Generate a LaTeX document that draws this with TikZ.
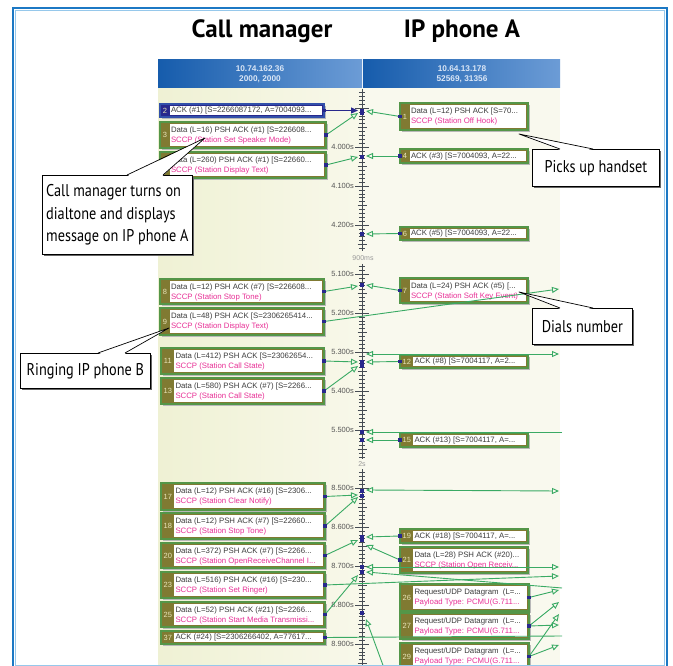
\documentclass[tikz,border=0pt]{standalone}
\usepackage{fontspec}
\setmainfont{Liberation Sans}
\newfontfamily\titlefont{PT Sans}
\newfontfamily\callfont[FakeStretch=0.84]{PT Sans}
\usetikzlibrary{arrows.meta,calc,fit,shadows}

\definecolor{frameblue}{RGB}{28,120,196}
\definecolor{framelight}{RGB}{150,200,235}
\definecolor{hdrdark}{RGB}{22,92,172}
\definecolor{hdrlight}{RGB}{108,156,214}
\definecolor{hdrtext}{RGB}{218,230,246}
\definecolor{colL}{RGB}{239,241,212}
\definecolor{colLr}{RGB}{248,248,234}
\definecolor{colR}{RGB}{249,249,238}
\definecolor{olive}{RGB}{128,122,50}
\definecolor{boxedge}{RGB}{84,150,72}
\definecolor{numtxt}{RGB}{232,228,184}
\definecolor{txtgray}{RGB}{60,60,60}
\definecolor{pinktxt}{RGB}{232,48,150}
\definecolor{msggreen}{RGB}{58,170,100}
\definecolor{navy}{RGB}{40,40,140}
\definecolor{selblue}{RGB}{50,80,170}
\definecolor{axisgray}{RGB}{70,76,84}
\definecolor{timegray}{RGB}{85,85,85}

\tikzset{
 boxframe/.style={draw=boxedge, fill=olive, line width=1.1pt, inner sep=0pt, outer sep=0pt},
 selframe/.style={draw=selblue, fill=navy, line width=1.1pt, inner sep=0pt, outer sep=0pt},
 numsty/.style={text=numtxt, font=\fontsize{7.5}{8}\selectfont, inner sep=0pt},
 l1sty/.style={anchor=west, inner sep=0pt, text=txtgray, font=\fontsize{7.8}{9}\selectfont},
 l2sty/.style={l1sty, text=pinktxt},
 msgline/.style={draw=msggreen, line width=0.9pt},
 msg/.style={msgline, -{Triangle[open, length=7pt, width=6pt]}},
 msgboth/.style={msgline, {Triangle[open, length=7pt, width=6pt]}-{Triangle[open, length=7pt, width=6pt]}},
 selmsg/.style={draw=navy, line width=0.9pt, -{Triangle[length=7pt, width=6pt]}},
 axtick/.style={draw=axisgray, line width=0.55pt},
 axtickmaj/.style={draw=axisgray, line width=0.75pt},
 timelbl/.style={anchor=east, inner sep=0pt, text=timegray, font=\fontsize{7.5}{8}\selectfont},
 hdrtxt/.style={inner sep=0pt, text=hdrtext, font=\bfseries\fontsize{8.3}{9}\selectfont},
 titlesty/.style={inner sep=0pt, font=\titlefont\bfseries\fontsize{25}{28}\selectfont},
 callsty/.style={draw=black, line width=0.7pt, fill=white, inner sep=0pt, align=left,
   font=\callfont\fontsize{17}{22.5}\selectfont,
   drop shadow={shadow xshift=1.3pt, shadow yshift=-1.3pt, fill=black!60, opacity=1}},
 wedgeline/.style={draw=black, line width=0.7pt, line join=round},
}

% #1 name #2 number #3 x1 #4 y1 #5 x2 #6 y2 #7 line 1 #8 line 2 #9 frame style
\newcommand\msgbox[9]{%
  \ifnum#2>9 \def\sw{13}\else\def\sw{9.5}\fi
  \fill[black!28] ({#3+1.8},{#4+1.8}) rectangle ({#5+1.8},{#6+1.8});
  \node[#9, fit={(#3,#4) (#5,#6)}] (#1) {};
  \fill[white] ({#3+\sw},{#4+1.8}) rectangle ({#5-1.8},{#6-1.8});
  \node[numsty] (#1n) at ({#3+\sw/2+0.3},{(#4+#6)/2}) {#2};
  \if\relax\detokenize{#8}\relax
    \node[l1sty] (#1a) at ({#3+\sw+1.3},{(#4+#6)/2}) {#7};
  \else
    \node[l1sty] (#1a) at ({#3+\sw+1.3},{#4+8}) {#7};
    \node[l2sty] (#1b) at ({#3+\sw+1.3},{#4+18.2}) {#8};
  \fi
}
\newcommand\navydot[1]{\fill[navy] ($(#1)+(-1.6,-1.6)$) rectangle ($(#1)+(1.6,1.6)$);}
% #1 reference y, #2 kmin, #3 kmax
\newcommand\axticks[3]{%
  \foreach \k in {#2,...,#3}{%
    \pgfmathtruncatemacro\mm{mod(abs(\k),10)}%
    \pgfmathtruncatemacro\mf{mod(abs(\k),5)}%
    \ifnum\mm=0 \draw[axtickmaj] (355,{#1+3.9*\k}) -- (369,{#1+3.9*\k});
    \else\ifnum\mf=0 \draw[axtick] (357.5,{#1+3.9*\k}) -- (366.5,{#1+3.9*\k});
    \else \draw[axtick] (358.8,{#1+3.9*\k}) -- (365.2,{#1+3.9*\k}); \fi\fi}}

\begin{document}
\begin{tikzpicture}[x=1pt,y=-1pt]
\useasboundingbox (0,0) rectangle (673,666);
\clip (0,0) rectangle (673,666);
\fill[white] (0,0) rectangle (673,666);

% columns and headers
\shade[left color=colL, right color=colLr] (158,88) rectangle (362,670);
\fill[colR] (362,88) rectangle (560,670);
\shade[left color=hdrdark, right color=hdrlight] (158,60) rectangle (362,88);
\shade[left color=hdrdark, right color=hdrlight] (363,60) rectangle (560,88);
\node[hdrtxt] (hL1) at (260,68.5) {10.74.162.36};
\node[hdrtxt] (hL2) at (260,79.5) {2000, 2000};
\node[hdrtxt] (hR1) at (462,68.5) {10.64.13.178};
\node[hdrtxt] (hR2) at (462,79.5) {52569, 31356};

% time axis
\draw[axisgray, line width=0.9pt] (362,89) -- (362,251);
\draw[axisgray, line width=0.9pt] (362,264) -- (362,459);
\draw[axisgray, line width=0.9pt] (362,469) -- (362,666);
\axticks{147}{-14}{26}
\axticks{274}{-2}{47}
\axticks{488}{-4}{45}
\foreach \lab/\yy in {4.000s/147,4.100s/186,4.200s/225,5.100s/274,5.200s/313,5.300s/352,5.400s/391,5.500s/430,8.500s/488,8.600s/527,8.700s/566,8.800s/605,8.900s/644}
  {\node[timelbl] (tl\yy) at (354,\yy) {\lab};}
\node[inner sep=0pt, text=black!40, font=\fontsize{7}{8}\selectfont] (gap1) at (363,258) {900ms};
\node[inner sep=0pt, text=black!40, font=\fontsize{7}{8}\selectfont] (gap2) at (362,464) {2s};

% message boxes, call manager side
\msgbox{b2}{2}{160}{104}{324}{117}{ACK (\#1) [S=2266087172, A=7004093...}{}{selframe}
\msgbox{b3}{3}{160}{122}{326}{148}{Data (L=16) PSH ACK (\#1) [S=226608...}{SCCP (Station Set Speaker Mode)}{boxframe}
\msgbox{b5}{5}{160}{152}{326}{178}{Data (L=260) PSH ACK (\#1) [S=22660...}{SCCP (Station Display Text)}{boxframe}
\msgbox{b8}{8}{160}{279}{324}{304}{Data (L=12) PSH ACK (\#7) [S=226608...}{SCCP (Station Stop Tone)}{boxframe}
\msgbox{b9}{9}{160}{308}{324}{335}{Data (L=48) PSH ACK [S=2306265414...}{SCCP (Station Display Text)}{boxframe}
\msgbox{b11}{11}{161}{348}{324}{374}{Data (L=412) PSH ACK [S=23062654...}{SCCP (Station Call State)}{boxframe}
\msgbox{b13}{13}{161}{378}{324}{404}{Data (L=580) PSH ACK (\#7) [S=2266...}{SCCP (Station Call State)}{boxframe}
\msgbox{b17}{17}{161}{483}{325}{510}{Data (L=12) PSH ACK (\#16) [S=2306...}{SCCP (Station Clear Notify)}{boxframe}
\msgbox{b18}{18}{161}{513}{325}{539}{Data (L=12) PSH ACK (\#7) [S=22660...}{SCCP (Station Stop Tone)}{boxframe}
\msgbox{b20}{20}{161}{543}{325}{568}{Data (L=372) PSH ACK (\#7) [S=2266...}{SCCP (Station OpenReceiveChannel I...}{boxframe}
\msgbox{b23}{23}{161}{572}{325}{598}{Data (L=516) PSH ACK (\#16) [S=230...}{SCCP (Station Set Ringer)}{boxframe}
\msgbox{b25}{25}{161}{602}{325}{627}{Data (L=52) PSH ACK (\#21) [S=2266...}{SCCP (Station Start Media Transmissi...}{boxframe}
\msgbox{b37}{37}{161}{631}{325}{644}{ACK (\#24) [S=2306266402, A=77617...}{}{boxframe}

% message boxes, IP phone A side
\msgbox{b1}{1}{400}{103}{528}{130}{Data (L=12) PSH ACK [S=70...}{SCCP (Station Off Hook)}{boxframe}
\msgbox{b4}{4}{400}{149}{528}{163}{ACK (\#3) [S=7004093, A=22...}{}{boxframe}
\msgbox{b6}{6}{400}{227}{528}{240}{ACK (\#5) [S=7004093, A=22...}{}{boxframe}
\msgbox{b7}{7}{400}{278}{528}{303}{Data (L=24) PSH ACK (\#5) [...}{SCCP (Station Soft Key Event)}{boxframe}
\msgbox{b12}{12}{400}{355}{528}{368}{ACK (\#8) [S=7004117, A=2...}{}{boxframe}
\msgbox{b15}{15}{400}{433}{528}{447}{ACK (\#13) [S=7004117, A=...}{}{boxframe}
\msgbox{b19}{19}{400}{529}{528}{543}{ACK (\#18) [S=7004117, A=...}{}{boxframe}
\msgbox{b21}{21}{400}{547}{528}{573}{Data (L=28) PSH ACK (\#20)...}{SCCP (Station Open Receiv...}{boxframe}
\msgbox{b26}{26}{400}{584}{529}{611}{Request/UDP Datagram\ \ (L=...}{Payload Type: PCMU(G.711...}{boxframe}
\msgbox{b27}{27}{400}{613}{529}{639}{Request/UDP Datagram\ \ (L=...}{Payload Type: PCMU(G.711...}{boxframe}
\msgbox{b29}{29}{400}{643}{529}{670}{Request/UDP Datagram\ \ (L=...}{Payload Type: PCMU(G.711...}{boxframe}

% axis end points
\coordinate (a2) at (358,110.5);
\coordinate (a1) at (366,111);
\coordinate (a3) at (358,113);
\coordinate (a5) at (358,157);
\coordinate (a4) at (366,156);
\coordinate (a6) at (366,234);
\coordinate (a8) at (358,286);
\coordinate (a7) at (366,285);
\coordinate (p9) at (559,289);
\coordinate (a11) at (358,362);
\coordinate (a13) at (358,366);
\coordinate (a12) at (366,362);
\coordinate (q1) at (366,354);
\coordinate (p12) at (559,354);
\coordinate (a15) at (366,440);
\coordinate (q2) at (366,432);
\coordinate (p15) at (562,432);
\coordinate (q3) at (366,490);
\coordinate (p17) at (559,491);
\coordinate (a17) at (358,495);
\coordinate (a18) at (358,497);
\coordinate (a20) at (358,540);
\coordinate (a19) at (366,537);
\coordinate (a21) at (366,545);
\coordinate (q4) at (366,567);
\coordinate (p21) at (559,567);
\coordinate (p23) at (559,576);
\coordinate (q5) at (366,572);
\coordinate (p23b) at (562,588);
\coordinate (a25) at (358,575);
\coordinate (p37) at (562,636);
\coordinate (q6) at (366,619);
\coordinate (r6) at (384,668);
\coordinate (p26) at (559,590);
\coordinate (p27) at (559,602);
\coordinate (p29) at (559,614);
\coordinate (p27b) at (559,625);
\coordinate (p29b) at (559,645);

% connectors
\draw[selmsg] (b2.east) -- (a2);
\draw[msg] (b1.west) -- (a1);
\draw[msg] (b3.east) -- (a3);
\draw[msg] (b5.east) -- (a5);
\draw[msg] (b4.west) -- (a4);
\draw[msg] (b6.west) -- (a6);
\draw[msg] (b8.east) -- (a8);
\draw[msg] (b7.west) -- (a7);
\draw[msg] (b9.east) -- (p9);
\draw[msg] (b11.east) -- (a11);
\draw[msg] (b13.east) -- (a13);
\draw[msg] (b12.west) -- (a12);
\draw[msgboth] (q1) -- (p12);
\draw[msg] (b15.west) -- (a15);
\draw[msg] (p15) -- (q2);
\draw[msgboth] (q3) -- (p17);
\draw[msg] (b17.east) -- (a17);
\draw[msg] (b18.east) -- (a18);
\draw[msg] (b20.east) -- (a20);
\draw[msg] (b19.west) -- (a19);
\draw[msg] (b21.west) -- (a21);
\draw[msgboth] (q4) -- (p21);
\draw[msg] (b23.east) -- (p23);
\draw[msg] (p23b) -- (q5);
\draw[msg] (b25.east) -- (a25);
\draw[msgline] (b37.east) -- (p37);
\draw[msg] (r6) -- (q6);
\draw[msg] (b26.east) -- (p26);
\draw[msg] (b27.east) -- (p27);
\draw[msg] (b29.east) -- (p29);
\draw[msg] (b27.east) -- (p27b);
\draw[msg] (b29.east) -- (p29b);

% navy end markers
\foreach \n in {b2,b3,b5,b8,b9,b11,b13,b17,b18,b20,b23,b25,b37}{\navydot{\n.east}}
\foreach \n in {b1,b4,b6,b7,b12,b15,b19,b21}{\navydot{\n.west}}
\foreach \n in {b26,b27,b29}{\navydot{\n.east}}
\foreach \yy in {110.5,113,157,234,285,362,366,432,440,491,496,537,540,567,572,613}{\navydot{362,\yy}}

% callouts
\node[callsty, minimum width=150pt, minimum height=79pt, anchor=north west] (cA) at (42,175)
  {Call manager turns on\\dialtone and displays\\message on IP phone A};
\node[callsty, minimum width=127pt, minimum height=37pt, anchor=north west] (cB) at (532,149) {Picks up handset};
\node[callsty, minimum width=100pt, minimum height=36pt, anchor=north west] (cC) at (532,308) {Dials number};
\node[callsty, minimum width=130pt, minimum height=35pt, anchor=north west] (cD) at (20,353) {Ringing IP phone B};
\coordinate (tA) at (205,138);
\coordinate (tB) at (519,134);
\coordinate (tC) at (519,292);
\coordinate (tD) at (169,328);
\fill[white] (127.6,176) -- (tA) -- (162.4,176) -- cycle;
\draw[wedgeline] (127,175) -- (tA) -- (163,175);
\fill[white] (560.6,150) -- (tB) -- (592.4,150) -- cycle;
\draw[wedgeline] (560,149) -- (tB) -- (593,149);
\fill[white] (560.6,309) -- (tC) -- (592.4,309) -- cycle;
\draw[wedgeline] (560,308) -- (tC) -- (593,308);
\fill[white] (98.6,354) -- (tD) -- (124.4,354) -- cycle;
\draw[wedgeline] (98,353) -- (tD) -- (125,353);

% titles
\node[titlesty] (tCM) at (262,31) {Call manager};
\node[titlesty] (tIP) at (462,31) {IP phone A};

% outer frame
\draw[frameblue, line width=2.4pt] (13,8) rectangle (667,667);
\draw[framelight, line width=0.8pt] (15.2,10.2) rectangle (664.8,665.2);
\end{tikzpicture}
\end{document}
